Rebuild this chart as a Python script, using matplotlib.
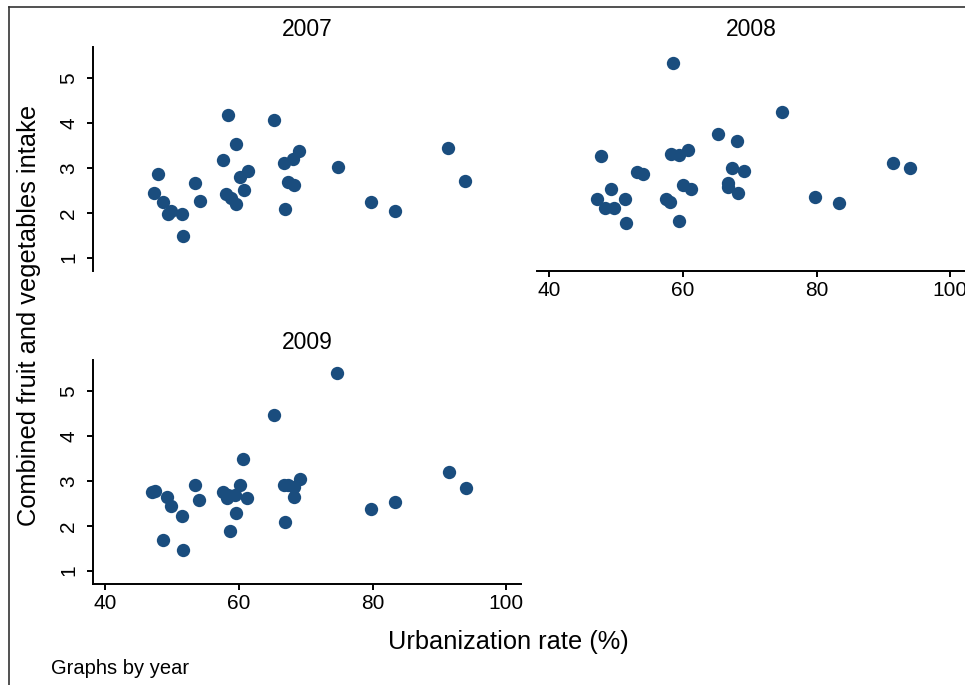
"""
Fruit & vegetable intake vs urbanization rate, by year (Stata-style by-graph)
"""
import matplotlib
matplotlib.use("Agg")
import matplotlib.pyplot as plt
from matplotlib.lines import Line2D

plt.rcParams["font.family"] = ["Liberation Sans", "DejaVu Sans"]

# ============================================================================
# Data
# ============================================================================
years = ["2007", "2008", "2009"]

urban_2007 = [47.3, 47.9, 48.6, 49.4, 49.9, 51.5, 51.7, 53.4, 54.2, 57.7,
              58.4, 58.1, 58.8, 59.6, 59.6, 60.2, 61.4, 60.8, 65.3, 66.8,
              66.9, 67.3, 68.1, 68.3, 69.0, 74.8, 79.8, 83.3, 91.3, 93.9]
intake_2007 = [2.45, 2.87, 2.24, 1.98, 2.03, 1.97, 1.49, 2.66, 2.27, 3.18,
               4.18, 2.42, 2.32, 2.19, 3.53, 2.79, 2.93, 2.51, 4.06, 3.11,
               2.09, 2.69, 3.20, 2.62, 3.37, 3.03, 2.24, 2.03, 3.44, 2.71]

urban_2008 = [47.1, 47.7, 48.4, 49.2, 49.7, 51.3, 51.5, 53.2, 54.0, 57.5,
              58.1, 58.3, 58.5, 59.5, 59.5, 60.1, 60.8, 61.3, 65.2, 66.8,
              66.8, 67.3, 68.1, 68.2, 69.1, 74.8, 79.7, 83.4, 91.4, 94.0]
intake_2008 = [2.31, 3.27, 2.11, 2.54, 2.11, 2.30, 1.77, 2.91, 2.87, 2.30,
               2.23, 3.31, 5.35, 3.29, 1.82, 2.63, 3.41, 2.54, 3.75, 2.66,
               2.57, 3.01, 3.60, 2.45, 2.94, 4.26, 2.35, 2.21, 3.10, 2.99]

urban_2009 = [47.0, 47.5, 48.6, 49.3, 49.8, 51.5, 51.7, 53.4, 54.0, 57.7,
              58.2, 58.4, 58.7, 59.4, 59.6, 60.2, 60.7, 61.3, 65.3, 66.7,
              66.9, 67.3, 68.2, 68.3, 69.1, 74.7, 79.8, 83.4, 91.4, 94.0]
intake_2009 = [2.75, 2.77, 1.69, 2.64, 2.44, 2.22, 1.46, 2.92, 2.57, 2.75,
               2.61, 2.68, 1.88, 2.68, 2.29, 2.90, 3.50, 2.63, 4.48, 2.90,
               2.08, 2.90, 2.86, 2.64, 3.04, 5.42, 2.37, 2.54, 3.20, 2.85]

x_ticks = [40, 60, 80, 100]
y_ticks = [1, 2, 3, 4, 5]

# ============================================================================
# Layout (pixels, from the top-left corner)
# ============================================================================
W, H = 965, 685
MARKER_COLOR = "#1a4d7e"


def px_axes(fig, left, top, width, height):
    return fig.add_axes([left / W, 1 - (top + height) / H, width / W, height / H])


fig = plt.figure(figsize=(W / 100, H / 100), dpi=100)
fig.patch.set_facecolor("white")

# outer frame (only top and left edges fall inside the picture)
fig.add_artist(Line2D([8.5 / W, 8.5 / W], [0, 1 - 7 / H], color="#333333", lw=1.2,
                      transform=fig.transFigure))
fig.add_artist(Line2D([8.5 / W, 1], [1 - 7 / H, 1 - 7 / H], color="#333333", lw=1.2,
                      transform=fig.transFigure))

panels = [
    # x, y, title, (left, top), show y axis, show x axis
    (urban_2007, intake_2007, years[0], (93, 47), True, False),
    (urban_2008, intake_2008, years[1], (537, 47), False, True),
    (urban_2009, intake_2009, years[2], (93, 360), True, True),
]

for xs, ys, title, (left, top), show_y, show_x in panels:
    ax = px_axes(fig, left, top, 428, 224)
    ax.scatter(xs, ys, s=92, color=MARKER_COLOR, linewidths=0, zorder=3)

    ax.set_xlim(38.2, 102.2)
    ax.set_ylim(0.7, 5.7)
    ax.set_title(title, fontsize=16.5, pad=8)

    for side in ["top", "right"]:
        ax.spines[side].set_visible(False)
    ax.spines["left"].set_visible(show_y)
    ax.spines["bottom"].set_visible(show_x)
    for side in ["left", "bottom"]:
        ax.spines[side].set_linewidth(1.4)

    ax.tick_params(length=4.5, width=1.4, labelsize=15)
    if show_y:
        ax.set_yticks(y_ticks)
        ax.tick_params(axis="y", labelrotation=90, pad=6)
        for lab in ax.get_yticklabels():
            lab.set_va("center")
    else:
        ax.set_yticks([])
    if show_x:
        ax.set_xticks(x_ticks)
        ax.tick_params(axis="x", pad=3)
    else:
        ax.set_xticks([])

# shared titles and note
fig.text(29 / W, 1 - 315 / H, "Combined fruit and vegetables intake",
         rotation=90, ha="center", va="center", fontsize=18.3)
fig.text(508 / W, 1 - 642 / H, "Urbanization rate (%)",
         ha="center", va="center", fontsize=18.3)
fig.text(51 / W, 1 - 668 / H, "Graphs by year",
         ha="left", va="center", fontsize=14.5)

fig.savefig("out.png", dpi=100)
